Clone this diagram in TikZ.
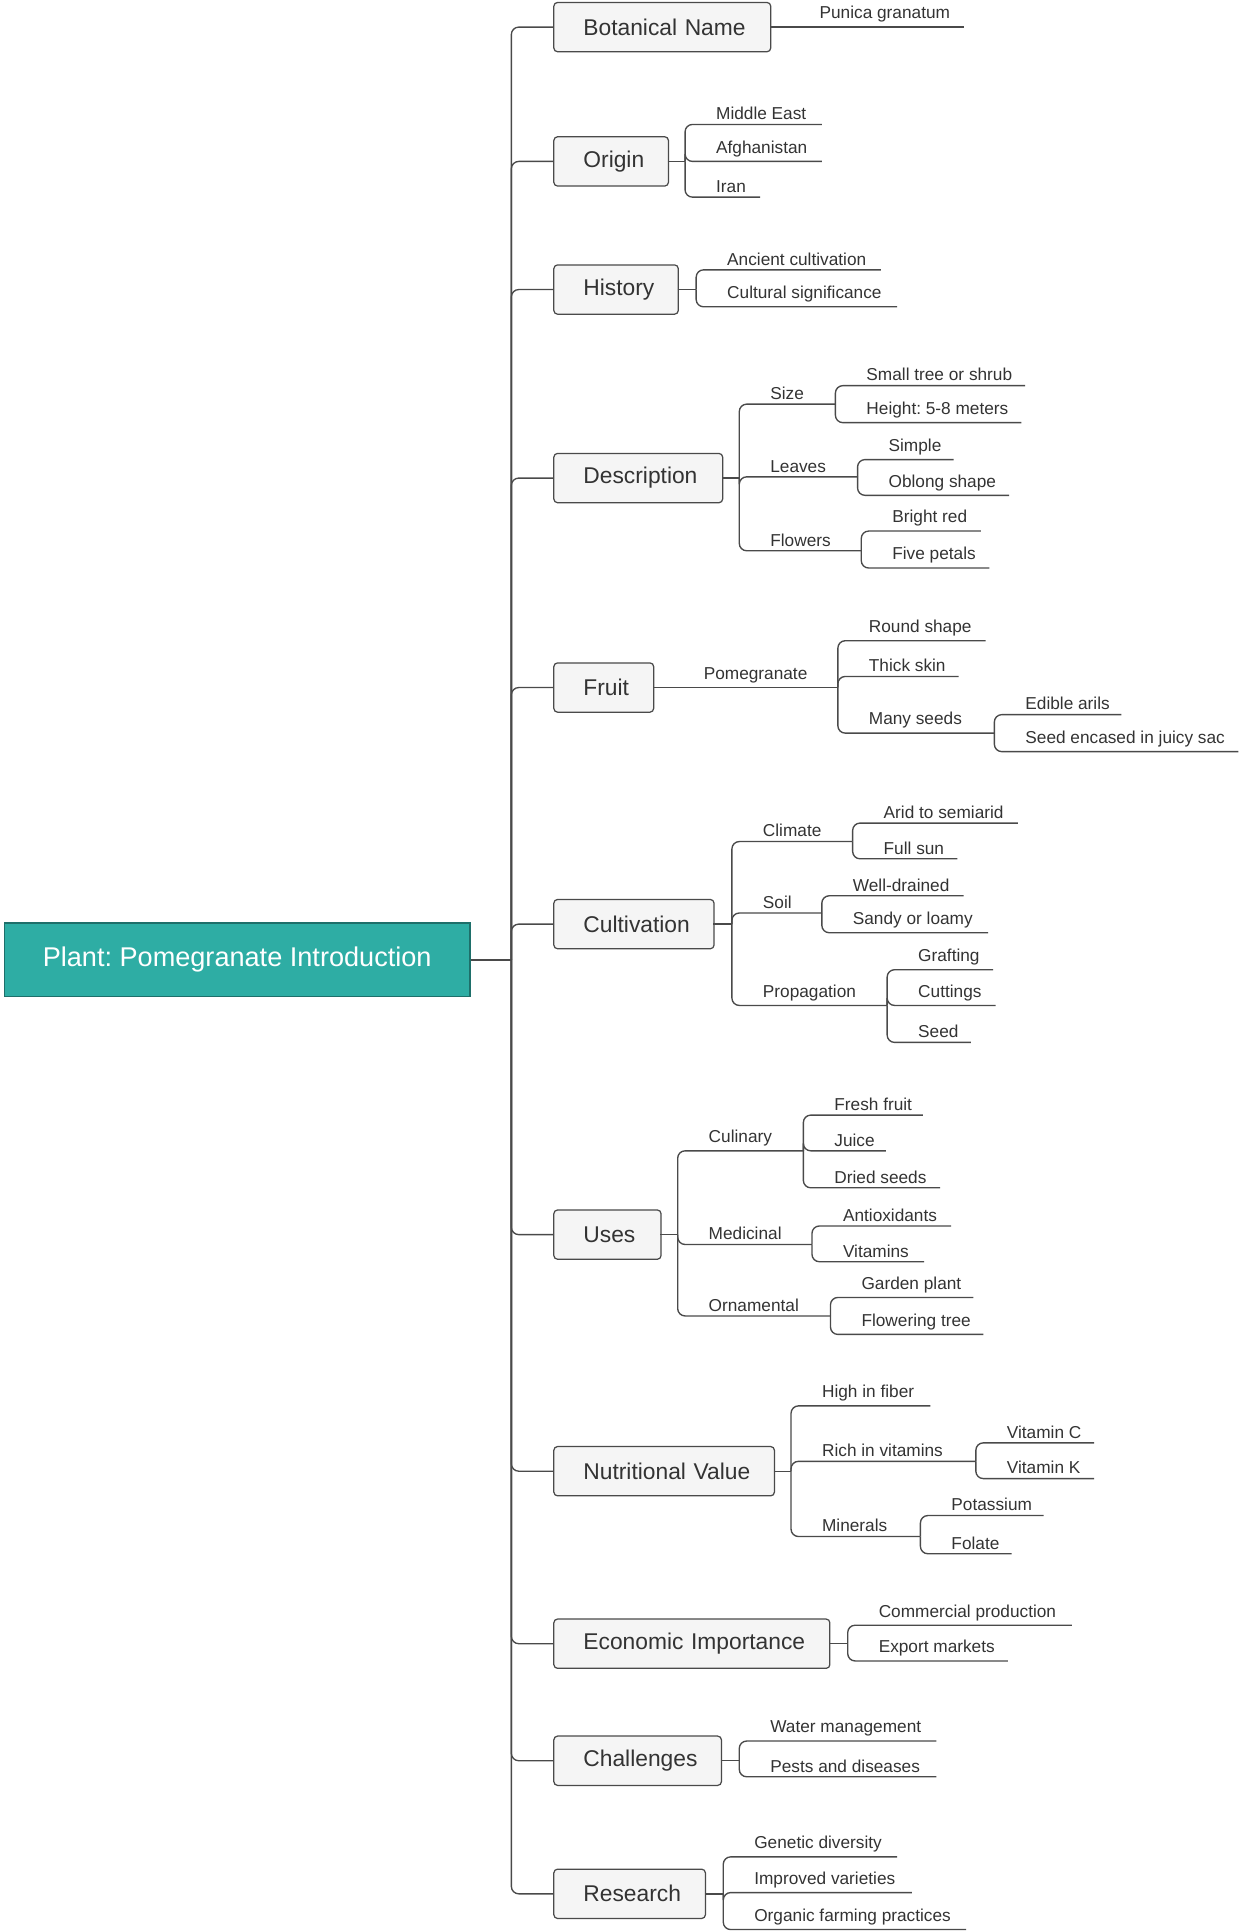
\documentclass[tikz,border=0pt]{standalone}
\usepackage{fontspec}
\setmainfont{Liberation Sans}
\frenchspacing
\definecolor{teal1}{HTML}{2EADA4}
\definecolor{teal2}{HTML}{1E6F6A}
\definecolor{ink}{HTML}{333333}
\definecolor{lnc}{HTML}{4A4A4A}
\tikzset{
 ln/.style={draw=lnc,line width=1.1pt,rounded corners=6pt},
 lt/.style={anchor=south west,inner xsep=1pt,inner ysep=3.5pt,text=ink,font=\fontsize{14}{16}\selectfont},
 mn/.style={draw=lnc,line width=1pt,fill=black!4,rounded corners=3pt,minimum height=40pt,anchor=west,align=left,inner xsep=0pt,text=ink,font=\fontsize{18.5}{20}\selectfont},
}
\newcommand\lf[5]{\draw[ln] (#1,#2) -- (#1,#3) -- (#4,#3);\node[lt] at (#1+24,#3) {#5};}
\newcommand\pc[3]{\draw[ln] (#1,#3) -- (#2,#3);}
\newcommand\mainn[4]{\node[mn,minimum width=#3-449pt,text width=#3-449pt] (#1) at (449,#2) {\hspace*{24pt}#4};\draw[ln] (trunk) -- (415,#2) -- (#1.west);}
\begin{document}
\begin{tikzpicture}[x=1pt,y=-1pt]
\useasboundingbox (0,0) rectangle (1006,1568);
\node[draw=teal2,fill=teal1,line width=1pt,minimum width=378pt,minimum height=60pt,text=white,font=\fontsize{22}{24}\selectfont,anchor=west] (root) at (3,779) {Plant: Pomegranate Introduction};
\coordinate (trunk) at (415,779);
\draw[ln] (root.east) -- (trunk);
\mainn{bn}{22}{625}{Botanical Name}
\draw[ln] (bn.east) -- (782,22); \node[lt] at (664,22) {Punica granatum};
\mainn{or}{131}{542}{Origin}
\pc{542}{556}{131}
\lf{556}{131}{101}{667}{Middle East}\lf{556}{131}{131}{667}{Afghanistan}\lf{556}{131}{160}{617}{Iran}
\mainn{hi}{235}{550}{History}
\pc{550}{565}{235}
\lf{565}{235}{219}{715}{Ancient cultivation}\lf{565}{235}{249}{728}{Cultural significance}
\mainn{de}{388}{586}{Description}
\pc{586}{600}{388}
\lf{600}{388}{328}{678}{Size}\lf{600}{388}{387}{696}{Leaves}\lf{600}{388}{447}{699}{Flowers}
\lf{678}{328}{313}{832}{Small tree or shrub}\lf{678}{328}{343}{829}{Height: 5-8 meters}
\lf{696}{387}{373}{774}{Simple}\lf{696}{387}{402}{819}{Oblong shape}
\lf{699}{447}{431}{796}{Bright red}\lf{699}{447}{461}{803}{Five petals}
\mainn{fr}{558}{530}{Fruit}
\draw[ln] (fr.east) -- (680,558); \node[lt] at (570,558) {Pomegranate};
\lf{680}{558}{520}{800}{Round shape}\lf{680}{558}{549}{778}{Thick skin}\lf{680}{558}{595}{807}{Many seeds}
\lf{807}{595}{580}{910}{Edible arils}\lf{807}{595}{610}{1005}{Seed encased in juicy sac}
\mainn{cu}{750}{579}{Cultivation}
\pc{579}{594}{750}
\lf{594}{750}{683}{692}{Climate}\lf{594}{750}{741}{667}{Soil}\lf{594}{750}{816}{720}{Propagation}
\lf{692}{683}{668}{826}{Arid to semiarid}\lf{692}{683}{697}{777}{Full sun}
\lf{667}{741}{727}{782}{Well-drained}\lf{667}{741}{757}{802}{Sandy or loamy}
\lf{720}{816}{787}{806}{Grafting}\lf{720}{816}{816}{808}{Cuttings}\lf{720}{816}{846}{788}{Seed}
\mainn{us}{1002}{536}{Uses}
\pc{536}{550}{1002}
\lf{550}{1002}{934}{652}{Culinary}\lf{550}{1002}{1010}{659}{Medicinal}\lf{550}{1002}{1068}{674}{Ornamental}
\lf{652}{934}{905}{749}{Fresh fruit}\lf{652}{934}{934}{719}{Juice}\lf{652}{934}{964}{763}{Dried seeds}
\lf{659}{1010}{995}{772}{Antioxidants}\lf{659}{1010}{1024}{750}{Vitamins}
\lf{674}{1068}{1053}{790}{Garden plant}\lf{674}{1068}{1083}{798}{Flowering tree}
\mainn{nv}{1194}{628}{Nutritional Value}
\pc{628}{642}{1194}
\lf{642}{1194}{1141}{755}{High in fiber}\lf{642}{1194}{1186}{792}{Rich in vitamins}\lf{642}{1194}{1247}{747}{Minerals}
\lf{792}{1186}{1171}{888}{Vitamin C}\lf{792}{1186}{1200}{888}{Vitamin K}
\lf{747}{1247}{1230}{847}{Potassium}\lf{747}{1247}{1261}{821}{Folate}
\mainn{ei}{1334}{673}{Economic Importance}
\pc{673}{688}{1334}
\lf{688}{1334}{1319}{870}{Commercial production}\lf{688}{1334}{1348}{818}{Export markets}
\mainn{ch}{1429}{585}{Challenges}
\pc{585}{600}{1429}
\lf{600}{1429}{1413}{760}{Water management}\lf{600}{1429}{1442}{760}{Pests and diseases}
\mainn{re}{1537}{572}{Research}
\pc{572}{587}{1537}
\lf{587}{1537}{1507}{728}{Genetic diversity}\lf{587}{1537}{1536}{740}{Improved varieties}\lf{587}{1537}{1566}{784}{Organic farming practices}
\end{tikzpicture}
\end{document}
